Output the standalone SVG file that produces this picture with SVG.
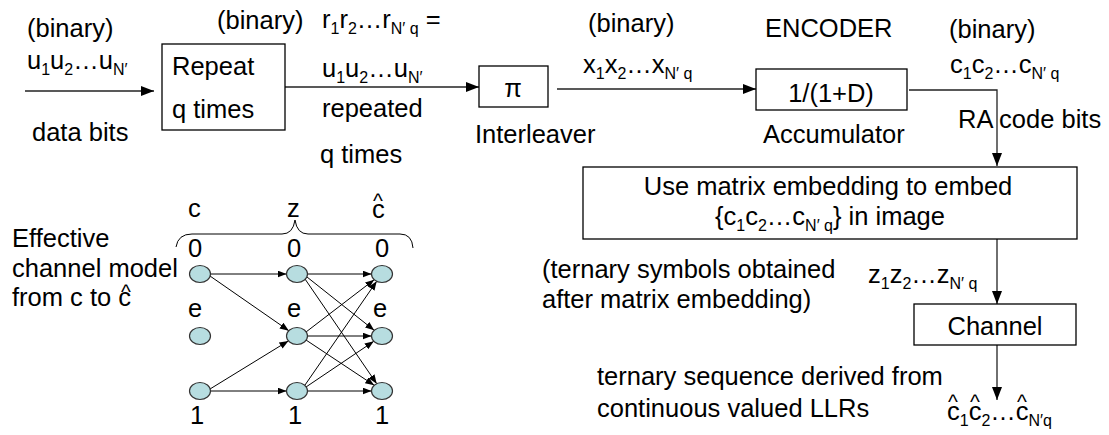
<svg xmlns="http://www.w3.org/2000/svg" width="1109" height="435" viewBox="0 0 1109 435">
<style>
.t{font-family:"Liberation Sans",Arial,sans-serif;font-size:25.5px;fill:#000}
.s{font-size:16px}
.c{font-size:21px}
.box{fill:#fff;stroke:#000;stroke-width:1.3}
.ln{fill:none;stroke:#222;stroke-width:1.3}
.node{fill:#b7dde0;stroke:#333;stroke-width:1.2}
.gl{fill:none;stroke:#000;stroke-width:1}
</style>
<defs>
<marker id="ah" markerWidth="13" markerHeight="10" refX="13" refY="5" orient="auto" markerUnits="userSpaceOnUse"><path d="M0,0 L13,5 L0,10 z" fill="#000"/></marker>
<marker id="as" markerWidth="9" markerHeight="7" refX="9" refY="3.5" orient="auto" markerUnits="userSpaceOnUse"><path d="M0,0 L9,3.5 L0,7 z" fill="#000"/></marker>
</defs>
<rect width="1109" height="435" fill="#fff"/>

<g id="connectors">
<line class="ln" x1="25" y1="91" x2="154" y2="91" marker-end="url(#ah)"/>
<line class="ln" x1="285" y1="87" x2="479" y2="87" marker-end="url(#ah)"/>
<line class="ln" x1="557" y1="89" x2="756" y2="89" marker-end="url(#ah)"/>
<polyline class="ln" points="909,90 997,90 997,166" marker-end="url(#ah)"/>
<line class="ln" x1="997" y1="239" x2="997" y2="304" marker-end="url(#ah)"/>
<line class="ln" x1="997" y1="345" x2="997" y2="400" marker-end="url(#ah)"/>
</g>

<g id="input-labels">
<text class="t" x="27" y="37">(binary)</text>
<text class="t" x="27" y="69">u<tspan class="s" dy="6">1</tspan><tspan dy="-6">u</tspan><tspan class="s" dy="6">2</tspan><tspan dy="-6">…u</tspan><tspan class="s" dy="6">N′</tspan></text>
<text class="t" x="32" y="141">data bits</text>
</g>

<g id="repeat">
<rect class="box" x="162" y="44" width="123" height="86"/>
<text class="t" x="172" y="75">Repeat</text>
<text class="t" x="172" y="118">q times</text>
</g>

<g id="repeat-labels">
<text class="t" x="217" y="29">(binary)</text>
<text class="t" x="322" y="28">r<tspan class="s" dy="6">1</tspan><tspan dy="-6">r</tspan><tspan class="s" dy="6">2</tspan><tspan dy="-6">…r</tspan><tspan class="s" dy="6">N′ q</tspan><tspan dy="-6"> =</tspan></text>
<text class="t" x="322" y="77">u<tspan class="s" dy="6">1</tspan><tspan dy="-6">u</tspan><tspan class="s" dy="6">2</tspan><tspan dy="-6">…u</tspan><tspan class="s" dy="6">N′</tspan></text>
<text class="t" x="322" y="117">repeated</text>
<text class="t" x="320" y="163">q times</text>
</g>

<g id="interleaver">
<rect class="box" x="479" y="66" width="69" height="41"/>
<text class="t" x="513" y="97" text-anchor="middle">π</text>
<text class="t" x="475" y="143">Interleaver</text>
</g>

<g id="interleaver-labels">
<text class="t" x="588" y="32">(binary)</text>
<text class="t" x="583" y="73">x<tspan class="s" dy="6">1</tspan><tspan dy="-6">x</tspan><tspan class="s" dy="6">2</tspan><tspan dy="-6">…x</tspan><tspan class="s" dy="6">N′ q</tspan></text>
</g>

<g id="accumulator">
<text class="t" x="765" y="37">ENCODER</text>
<rect class="box" x="756" y="69" width="151" height="41"/>
<text class="t" x="831" y="102" text-anchor="middle">1/(1+D)</text>
<text class="t" x="763" y="143">Accumulator</text>
</g>

<g id="code-labels">
<text class="t" x="949" y="38">(binary)</text>
<text class="t" x="950" y="73">c<tspan class="s" dy="6">1</tspan><tspan dy="-6">c</tspan><tspan class="s" dy="6">2</tspan><tspan dy="-6">…c</tspan><tspan class="s" dy="6">N′ q</tspan></text>
<text class="t" x="958" y="128">RA code bits</text>
</g>

<g id="matrix-embedding">
<rect class="box" x="583" y="167" width="494" height="72"/>
<text class="t" x="828" y="195" text-anchor="middle">Use matrix embedding to embed</text>
<text class="t" x="830" y="225" text-anchor="middle">{c<tspan class="s" dy="6">1</tspan><tspan dy="-6">c</tspan><tspan class="s" dy="6">2</tspan><tspan dy="-6">…c</tspan><tspan class="s" dy="6">N′ q</tspan><tspan dy="-6">} in image</tspan></text>
</g>

<g id="embedding-labels">
<text class="t" x="542" y="278">(ternary symbols obtained</text>
<text class="t" x="542" y="308">after matrix embedding)</text>
<text class="t" x="868" y="283">z<tspan class="s" dy="6">1</tspan><tspan dy="-6">z</tspan><tspan class="s" dy="6">2</tspan><tspan dy="-6">…z</tspan><tspan class="s" dy="6">N′ q</tspan></text>
</g>

<g id="channel">
<rect class="box" x="914" y="304" width="162" height="41"/>
<text class="t" x="995" y="335" text-anchor="middle">Channel</text>
</g>

<g id="output-labels">
<text class="t" x="597" y="385">ternary sequence derived from</text>
<text class="t" x="597" y="417">continuous valued LLRs</text>
<text class="t" x="947" y="420">c<tspan class="s" dy="6">1</tspan><tspan dy="-6">c</tspan><tspan class="s" dy="6">2</tspan><tspan dy="-6">…c</tspan><tspan class="s" dy="6">N′q</tspan></text>
<text class="t c" x="953" y="409" text-anchor="middle">^</text>
<text class="t c" x="975" y="409" text-anchor="middle">^</text>
<text class="t c" x="1022" y="409" text-anchor="middle">^</text>
</g>

<g id="channel-model-caption">
<text class="t" x="12" y="247">Effective</text>
<text class="t" x="12" y="277">channel model</text>
<text class="t" x="12" y="306">from c to c</text>
<text class="t c" x="126" y="299" text-anchor="middle">^</text>
</g>

<g id="channel-model-headers">
<text class="t" x="188" y="217">c</text>
<text class="t" x="287" y="217">z</text>
<text class="t" x="372" y="218">c</text>
<text class="t c" x="378" y="208" text-anchor="middle">^</text>
<path class="gl" d="M176,247 Q178,234 192,234 L282,234 Q293,234 295,220 Q297,234 308,234 L400,234 Q412,234 413,248"/>
<text class="t" x="188" y="257">0</text>
<text class="t" x="287" y="257">0</text>
<text class="t" x="375" y="257">0</text>
<text class="t" x="188" y="317">e</text>
<text class="t" x="287" y="317">e</text>
<text class="t" x="373" y="317">e</text>
<text class="t" x="190" y="424">1</text>
<text class="t" x="288" y="424">1</text>
<text class="t" x="375" y="424">1</text>
</g>

<g id="channel-model-edges">
<line class="gl" x1="210.5" y1="274" x2="286.5" y2="274" marker-end="url(#as)"/>
<line class="gl" x1="210" y1="276" x2="288.8" y2="330.7" marker-end="url(#as)"/>
<line class="gl" x1="210" y1="389" x2="288.4" y2="340.9" marker-end="url(#as)"/>
<line class="gl" x1="210.5" y1="391" x2="286.5" y2="391" marker-end="url(#as)"/>
<line class="gl" x1="307.5" y1="274" x2="371.5" y2="274" marker-end="url(#as)"/>
<line class="gl" x1="307" y1="277" x2="374.2" y2="330.3" marker-end="url(#as)"/>
<line class="gl" x1="305" y1="279" x2="376.7" y2="383.7" marker-end="url(#as)"/>
<line class="gl" x1="306" y1="332" x2="374.2" y2="279.7" marker-end="url(#as)"/>
<line class="gl" x1="307.5" y1="336" x2="371.5" y2="336" marker-end="url(#as)"/>
<line class="gl" x1="306" y1="340" x2="374.2" y2="385.3" marker-end="url(#as)"/>
<line class="gl" x1="305" y1="385" x2="376.7" y2="281.3" marker-end="url(#as)"/>
<line class="gl" x1="306" y1="387" x2="373.8" y2="341.3" marker-end="url(#as)"/>
<line class="gl" x1="307.5" y1="391" x2="371.5" y2="391" marker-end="url(#as)"/>
</g>

<g id="node-c0"><ellipse class="node" cx="200" cy="274" rx="10.5" ry="8.5"/></g>
<g id="node-ce"><ellipse class="node" cx="200" cy="336" rx="10.5" ry="8.5"/></g>
<g id="node-c1"><ellipse class="node" cx="200" cy="391" rx="10.5" ry="8.5"/></g>
<g id="node-z0"><ellipse class="node" cx="297" cy="274" rx="10.5" ry="8.5"/></g>
<g id="node-ze"><ellipse class="node" cx="297" cy="336" rx="10.5" ry="8.5"/></g>
<g id="node-z1"><ellipse class="node" cx="297" cy="391" rx="10.5" ry="8.5"/></g>
<g id="node-h0"><ellipse class="node" cx="382" cy="274" rx="10.5" ry="8.5"/></g>
<g id="node-he"><ellipse class="node" cx="382" cy="336" rx="10.5" ry="8.5"/></g>
<g id="node-h1"><ellipse class="node" cx="382" cy="391" rx="10.5" ry="8.5"/></g>
</svg>
